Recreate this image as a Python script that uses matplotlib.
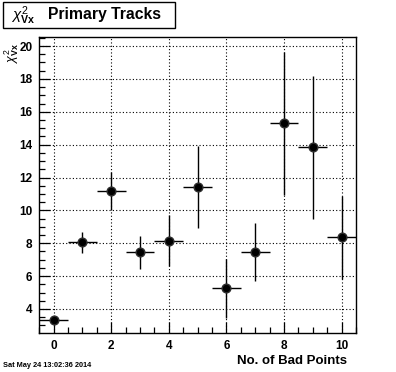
import numpy as np
import matplotlib
matplotlib.use("Agg")
import matplotlib.pyplot as plt
from matplotlib.ticker import MultipleLocator
from matplotlib.patches import Rectangle

plt.rcParams['font.family'] = ['Liberation Sans', 'DejaVu Sans']
plt.rcParams['mathtext.fontset'] = 'custom'
plt.rcParams['mathtext.rm'] = 'Liberation Sans'
plt.rcParams['mathtext.it'] = 'Liberation Sans:italic'
plt.rcParams['mathtext.bf'] = 'Liberation Sans:bold'

# data
bad_points = [0, 1, 2, 3, 4, 5, 6, 7, 8, 9, 10]
chi2_vx = [3.31, 8.05, 11.20, 7.44, 8.15, 11.44, 5.25, 7.48, 15.29, 13.83, 8.36]
chi2_err = [0.2, 0.65, 1.15, 1.0, 1.56, 2.5, 1.77, 1.78, 4.37, 4.35, 2.53]
x_err = [0.5] * 11
x_ticklabels = ["0", "2", "4", "6", "8", "10"]
y_ticklabels = ["4", "6", "8", "10", "12", "14", "16", "18", "20"]

fig = plt.figure(figsize=(3.96, 3.72), dpi=100)
ax = fig.add_axes([0.0992, 0.104, 0.7998, 0.7957])

ax.errorbar(bad_points, chi2_vx, yerr=chi2_err, xerr=x_err, fmt='o',
            color='black', ms=6.3, mfc='black', mec='#303030', elinewidth=1.0,
            capsize=0, zorder=3)

ax.set_xlim(-0.5, 10.5)
ax.set_ylim(2.52, 20.53)
ax.set_xticks([int(t) for t in x_ticklabels])
ax.set_xticklabels(x_ticklabels)
ax.set_yticks([int(t) for t in y_ticklabels])
ax.set_yticklabels(y_ticklabels)
ax.xaxis.set_minor_locator(MultipleLocator(0.5))
ax.yaxis.set_minor_locator(MultipleLocator(0.5))
ax.tick_params(which='both', direction='in', top=False, right=False,
               width=0.9, color='black')
ax.tick_params(which='major', length=8, labelsize=8.5, pad=5)
ax.tick_params(which='minor', length=4)
for lab in ax.get_xticklabels() + ax.get_yticklabels():
    lab.set_fontweight('bold')

ax.grid(True, which='major', color='black', linestyle=(0, (1, 2)), linewidth=0.8)
ax.set_axisbelow(True)
for sp in ax.spines.values():
    sp.set_linewidth(1.0)

# axis titles
fig.text(347 / 396, 8 / 372, "No. of Bad Points", ha='right', va='baseline',
         fontsize=9.5, fontweight='bold')
fig.text(0.03, 1 - 43 / 372, r"$\chi^{2}_{\mathbf{Vx}}$", rotation=90,
         ha='center', va='top', fontsize=9)

# title box
fig.patches.append(Rectangle((3 / 396, 1 - 28 / 372), 172 / 396, 26 / 372,
                             transform=fig.transFigure, fill=False,
                             edgecolor='black', linewidth=1.0))
fig.text(11 / 396, 1 - 16 / 372, r"$\chi^{2}_{\mathbf{Vx}}$", ha='left',
         va='center', fontsize=11)
fig.text(48 / 396, 1 - 15 / 372, "Primary Tracks", ha='left', va='center',
         fontsize=11.3, fontweight='bold')

# date stamp
fig.text(3 / 396, 5 / 372, "Sat May 24 13:02:36 2014", ha='left', va='baseline',
         fontsize=5.3, fontweight='bold')

fig.savefig("out.png", dpi=100)
